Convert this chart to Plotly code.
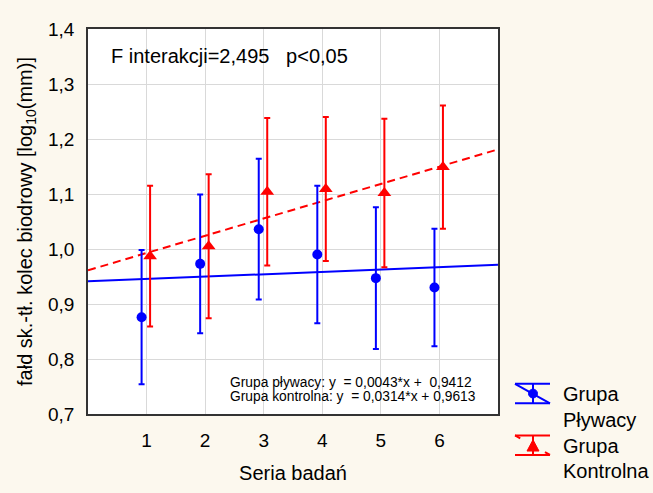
import numpy as np
import plotly.graph_objects as go

# ---- data ----
series_x = [1, 2, 3, 4, 5, 6]
x_tick_labels = ["1", "2", "3", "4", "5", "6"]
plywacy_mean = [0.876, 0.973, 1.036, 0.990, 0.947, 0.930]
plywacy_err = [0.122, 0.126, 0.128, 0.125, 0.129, 0.107]
kontrolna_mean = [0.987, 1.005, 1.104, 1.109, 1.102, 1.149]
kontrolna_err = [0.128, 0.131, 0.134, 0.131, 0.135, 0.112]
# regression equations shown on chart: y = a*x + b
plywacy_coef = [0.0043, 0.9412]
kontrolna_coef = [0.0314, 0.9613]
y_tick_vals = [0.7, 0.8, 0.9, 1.0, 1.1, 1.2, 1.3, 1.4]
y_tick_labels = ["0,7", "0,8", "0,9", "1,0", "1,1", "1,2", "1,3", "1,4"]

BLUE = "#0000ff"
RED = "#ff0000"
FONT = "Liberation Sans, Arial, sans-serif"

W, H = 653, 493
L, R, T, B = 88, 155, 29, 69
PW, PH = W - L - R, H - T - B


def px(x):
    return (x - L) / PW


def py(y):
    return (H - B - y) / PH


fig = go.Figure()

xr = np.array([0.0, 7.0])
fig.add_trace(go.Scatter(x=xr, y=plywacy_coef[0] * xr + plywacy_coef[1], mode="lines",
                         line=dict(color=BLUE, width=2), showlegend=False, hoverinfo="skip"))
fig.add_trace(go.Scatter(x=xr, y=kontrolna_coef[0] * xr + kontrolna_coef[1], mode="lines",
                         line=dict(color=RED, width=2, dash="8px,5px"), showlegend=False, hoverinfo="skip"))

fig.add_trace(go.Scatter(
    x=[v - 0.085 for v in series_x], y=plywacy_mean, mode="markers",
    marker=dict(color=BLUE, size=10, symbol="circle"),
    error_y=dict(type="data", array=plywacy_err, color=BLUE, thickness=2, width=3),
    name="Grupa Pływacy", showlegend=False))
fig.add_trace(go.Scatter(
    x=[v + 0.06 for v in series_x], y=kontrolna_mean, mode="markers",
    marker=dict(color=RED, size=12, symbol="triangle-up"),
    error_y=dict(type="data", array=kontrolna_err, color=RED, thickness=2, width=3),
    name="Grupa Kontrolna", showlegend=False))

annotations = [
    dict(x=px(109), y=py(56.7), xref="paper", yref="paper", xanchor="left", yanchor="middle",
         text="F interakcji=2,495\u00a0\u00a0\u00a0p<0,05", showarrow=False,
         font=dict(family=FONT, size=20, color="#000")),
    dict(x=px(228), y=py(392), xref="paper", yref="paper", xanchor="left", yanchor="middle",
         text="Grupa pływacy: y\u00a0\u00a0= 0,0043*x +\u00a0\u00a00,9412", showarrow=False,
         font=dict(family=FONT, size=13.8, color="#000")),
    dict(x=px(228), y=py(406), xref="paper", yref="paper", xanchor="left", yanchor="middle",
         text="Grupa kontrolna: y\u00a0\u00a0= 0,0314*x + 0,9613", showarrow=False,
         font=dict(family=FONT, size=13.8, color="#000")),
]
for txt, yy in [("Grupa", 403), ("Pływacy", 430), ("Grupa", 457), ("Kontrolna", 482)]:
    annotations.append(dict(x=px(561), y=py(yy), xref="paper", yref="paper", xanchor="left",
                            yanchor="middle", text=txt, showarrow=False,
                            font=dict(family=FONT, size=20, color="#000")))


def seg(x0, y0, x1, y1, color, dash="solid"):
    return dict(type="line", xref="paper", yref="paper", x0=px(x0), y0=py(y0), x1=px(x1), y1=py(y1),
                line=dict(color=color, width=2, dash=dash))


shapes = [
    # blue legend symbol
    seg(515, 393, 550, 393, BLUE), seg(515, 413, 550, 413, BLUE),
    seg(533, 393, 533, 413, BLUE), seg(515, 393, 550, 413, BLUE),
    dict(type="circle", xref="paper", yref="paper", x0=px(528.5), x1=px(537.5), y0=py(398.5), y1=py(407.5),
         fillcolor=BLUE, line=dict(color=BLUE, width=1)),
    # red legend symbol
    seg(515, 446, 550, 446, RED), seg(515, 466, 550, 466, RED),
    seg(533, 446, 533, 466, RED), seg(515, 446, 550, 466, RED, dash="6px,28.3px"),
    dict(type="path", xref="paper", yref="paper",
         path=f"M {px(533)} {py(450.5)} L {px(539)} {py(462)} L {px(527)} {py(462)} Z",
         fillcolor=RED, line=dict(color=RED, width=1)),
]

fig.update_layout(
    width=W, height=H,
    margin=dict(l=L, r=R, t=T, b=B, pad=0),
    paper_bgcolor="#fcf8ee", plot_bgcolor="#ffffff",
    font=dict(family=FONT, size=19, color="#000"),
    showlegend=False,
    annotations=annotations, shapes=shapes,
    xaxis=dict(range=[0, 7], tickvals=series_x, ticktext=x_tick_labels,
               showgrid=True, gridcolor="#d9d9d9", gridwidth=1, zeroline=False,
               showline=True, linecolor="#333333", linewidth=1.5, mirror=True,
               ticks="", ticklabelstandoff=8, tickfont=dict(size=19),
               title=dict(text="Seria badań", font=dict(size=20), standoff=16)),
    yaxis=dict(range=[0.7, 1.4], tickvals=y_tick_vals, ticktext=y_tick_labels,
               showgrid=True, gridcolor="#d9d9d9", gridwidth=1, zeroline=False,
               showline=True, linecolor="#333333", linewidth=1.5, mirror=True,
               ticks="", ticklabelstandoff=8, tickfont=dict(size=19),
               title=dict(text="fałd sk.-tł. kolec biodrowy [log<sub>10</sub>(mm)]",
                          font=dict(size=20), standoff=10)),
)

fig.write_html("out.html")
